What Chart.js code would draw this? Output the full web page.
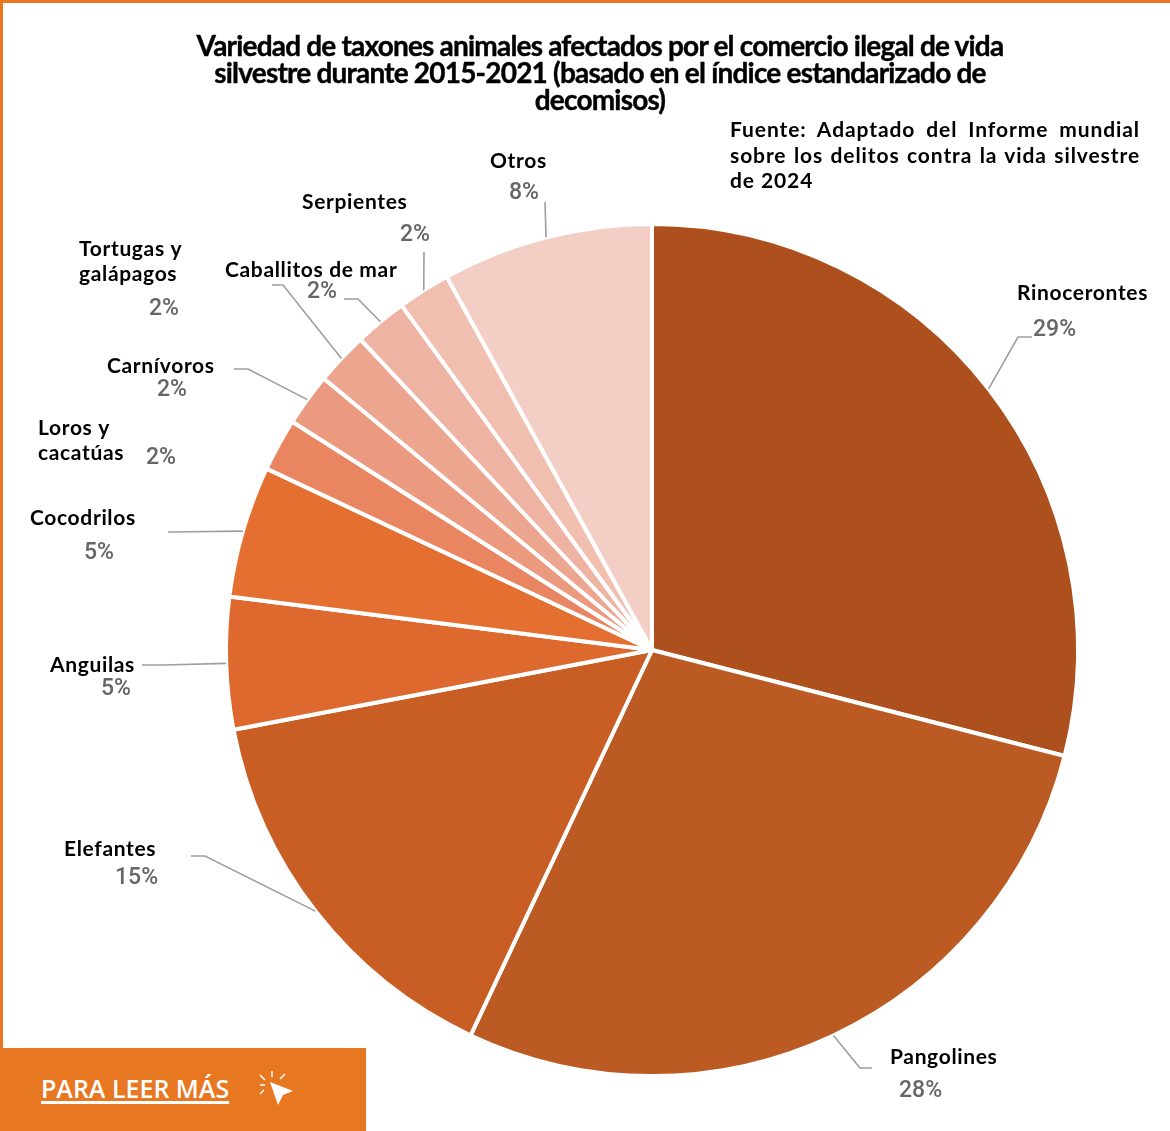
<!DOCTYPE html>
<html lang="es">
<head>
<meta charset="utf-8">
<title>Comercio ilegal de vida silvestre</title>
<script src="https://cdn.jsdelivr.net/npm/chart.js@4"></script>
<style>
    html, body { margin: 0; padding: 0; background: #fff; }
    #page { position: relative; width: 1170px; height: 1131px; overflow: hidden; background: #fff; }
    #page canvas { position: absolute; left: 0; top: 0; }
    .frameTop { position: absolute; left: 0; top: 0; width: 1170px; height: 3px; background: #E87722; }
    .frameLeft { position: absolute; left: 0; top: 0; width: 3px; height: 1048px; background: #E87722; }
    #title {
        position: absolute; left: 100px; top: 32px; width: 1000px; text-align: center;
        font: 700 28px/27px Lato, sans-serif; letter-spacing: -0.8px; color: #000;
        -webkit-text-stroke: 0.4px #000;
    }
    #source {
        position: absolute; left: 730px; top: 116px; width: 410px; text-align: justify;
        font: 700 21px/25.5px Lato, sans-serif; letter-spacing: 0.9px; color: #000;
    }
    #more { position: absolute; left: 0; top: 1048px; width: 366px; height: 83px; background: #E87722; }
    #more span {
        position: absolute; left: 41px; top: 24px; color: #fff;
        font: 600 25px/33px "Open Sans", sans-serif; text-decoration: underline;
        text-decoration-thickness: 2.5px; text-underline-offset: 3px;
    }
    #more svg { position: absolute; left: 255px; top: 22px; }
</style>
</head>
<body>
<div id="page">
    <canvas id="pieChart" width="1170" height="1131"></canvas>
    <div class="frameTop"></div>
    <div class="frameLeft"></div>
    <div id="title">Variedad de taxones animales afectados por el comercio ilegal de vida<br>silvestre durante 2015-2021 (basado en el índice estandarizado de<br>decomisos)</div>
    <div id="source">Fuente: Adaptado del Informe mundial sobre los delitos contra la vida silvestre de 2024</div>
    <div id="more">
        <span>PARA LEER MÁS</span>
        <svg width="42" height="42" viewBox="0 0 42 42">
            <path d="M15 12 L38 21 L28 25 L23 35 Z" fill="#fff"/>
            <path d="M17 1 V7 M5 5 L10 10 M30 4 L25 9 M5 15 H10 M5 24 L9 20" stroke="#fff" stroke-width="1.5" fill="none"/>
        </svg>
    </div>
</div>
<script>
const CATEGORIES = ['Rinocerontes', 'Pangolines', 'Elefantes', 'Anguilas', 'Cocodrilos', 'Loros y cacatúas', 'Carnívoros', 'Tortugas y galápagos', 'Caballitos de mar', 'Serpientes', 'Otros'];
const VALUES = [29, 28, 15, 5, 5, 2, 2, 2, 2, 2, 8];
const COLORS = ['#AE501E', '#BC5A24', '#C95E25', '#DD692E', '#E56F30', '#E98560', '#EB9A7F', '#ECA58F', '#EEB3A2', '#F0BFB0', '#F3CEC5'];

// where each label sits: name lines [x, y], percent [x, y], then the elbow of the leader line
const LABEL_LAYOUT = [
    { name: [[1017, 293]], pct: [1033, 330], leader: [[1018, 337], [1032, 337]] },
    { name: [[890, 1057]], pct: [899, 1091], leader: [[860, 1068], [872, 1068]] },
    { name: [[64, 849]], pct: [115, 878], leader: [[205, 856], [191, 856]] },
    { name: [[50, 665]], pct: [101, 689], leader: [[164, 665], [142, 665]] },
    { name: [[30, 518]], pct: [84, 553], leader: [[168, 532]] },
    { name: [[38, 428], [38, 453]], pct: [146, 458], leader: [] },
    { name: [[107, 366]], pct: [157, 390], leader: [[248, 369], [234, 369]] },
    { name: [[79, 249], [79, 274]], pct: [149, 309], leader: [[283, 285], [272, 285]] },
    { name: [[225, 270]], pct: [307, 292], leader: [[358, 299], [344, 299]] },
    { name: [[302, 202]], pct: [400, 235], leader: [[424, 252]] },
    { name: [[490, 161]], pct: [509, 193], leader: [[545, 202]] }
];
const NAME_LINES = { 'Loros y cacatúas': ['Loros y', 'cacatúas'], 'Tortugas y galápagos': ['Tortugas y', 'galápagos'] };

const sliceLabels = {
    id: 'sliceLabels',
    afterDraw(chart) {
        const ctx = chart.ctx;
        const arcs = chart.getDatasetMeta(0).data;
        ctx.save();
        ctx.textBaseline = 'middle';
        ctx.textAlign = 'left';
        arcs.forEach((arc, i) => {
            const spot = LABEL_LAYOUT[i];
            const mid = (arc.startAngle + arc.endAngle) / 2;

            if (spot.leader.length) {
                ctx.beginPath();
                ctx.moveTo(arc.x + Math.cos(mid) * arc.outerRadius, arc.y + Math.sin(mid) * arc.outerRadius);
                spot.leader.forEach(p => ctx.lineTo(p[0], p[1]));
                ctx.strokeStyle = '#9E9E9E';
                ctx.lineWidth = 1.6;
                ctx.stroke();
            }

            const lines = NAME_LINES[CATEGORIES[i]] || [CATEGORIES[i]];
            ctx.fillStyle = '#000';
            ctx.font = '700 21px Lato, sans-serif';
            ctx.letterSpacing = '0.65px';
            lines.forEach((line, k) => ctx.fillText(line, spot.name[k][0], spot.name[k][1]));

            ctx.fillStyle = '#666';
            ctx.font = '500 23px Roboto, sans-serif';
            ctx.letterSpacing = '0px';
            ctx.fillText(VALUES[i] + '%', spot.pct[0], spot.pct[1]);
        });
        ctx.restore();
    }
};

new Chart(document.getElementById('pieChart').getContext('2d'), {
    type: 'pie',
    data: {
        labels: CATEGORIES,
        datasets: [{
            data: VALUES,
            backgroundColor: COLORS,
            borderColor: '#fff',
            borderWidth: 4
        }]
    },
    options: {
        responsive: false,
        animation: false,
        layout: { padding: { left: 224, right: 90, top: 222, bottom: 53 } },
        plugins: {
            legend: { display: false },
            tooltip: { enabled: false }
        }
    },
    plugins: [sliceLabels]
});
</script>
</body>
</html>
